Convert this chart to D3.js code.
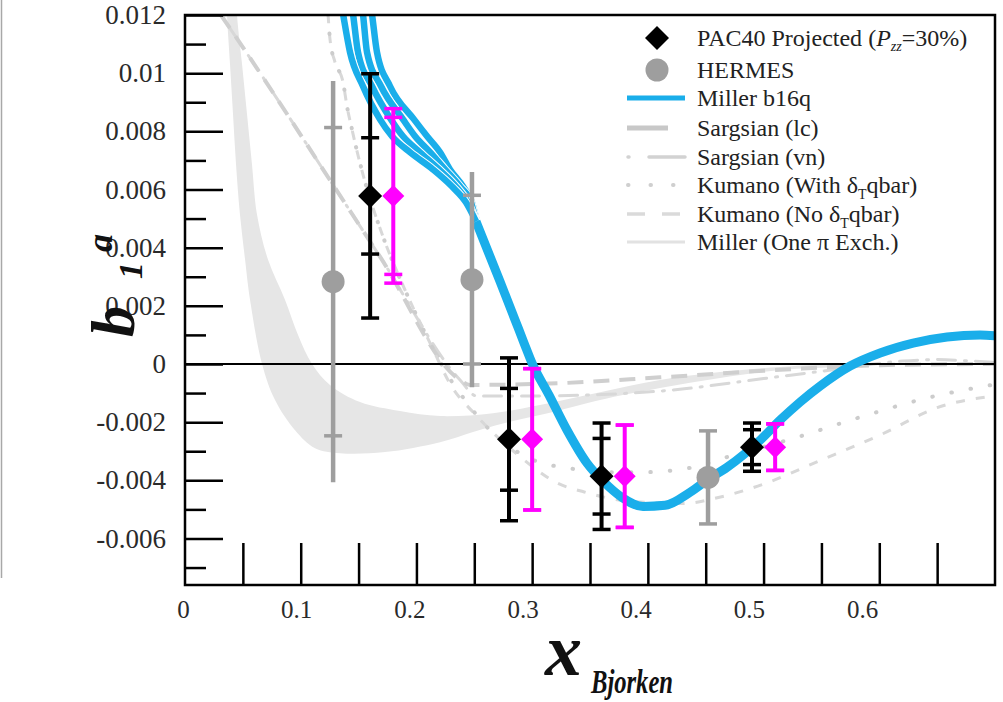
<!DOCTYPE html>
<html>
<head>
<meta charset="utf-8">
<script src="https://cdn.jsdelivr.net/npm/d3@7"></script>
<style>
body { margin: 0; background: #fff; }
text { font-family: "Liberation Serif", "Times New Roman", Times, serif; }
</style>
</head>
<body>
<svg id="chart" width="1003" height="702"></svg>
<script>
// ---- data ----
// PAC40 projected (black) and the shifted copy (magenta)
var pacX = [0.16, 0.28, 0.36, 0.49];
var pacY = [0.00578, -0.00259, -0.00386, -0.00286];
var pacStat = [0.0020, 0.00175, 0.0013, 0.0006];
var pacTot = [0.0042, 0.0028, 0.00183, 0.00083];
var projX = [0.18, 0.30, 0.38, 0.51];
var projErrA = [0.0030, 0.00243, 0.00176, 0.0008];
var projErrB = [0.0027, 0.00243, 0.00176, 0.0008];

// HERMES
var hermesX = [0.128, 0.248, 0.452];
var hermesY = [0.00283, 0.0029, -0.0039];
var hermesStat = [0.0053, 0.0029, 0.0016];
var hermesTot = [0.0069, 0.0037, 0.0016];

// Miller b16q: four strands at small x, one common tail
var strandY = [0.0129, 0.01203, 0.01072, 0.00955, 0.00841, 0.00783, 0.00728, 0.00669, 0.00610, 0.00555, 0.0049];
var strandAX = [0.1329, 0.1366, 0.1426, 0.1538, 0.1685, 0.1789, 0.1945, 0.2143, 0.2308, 0.2429, 0.2515];
var strandBX = [0.1418, 0.1452, 0.1495, 0.1616, 0.1780, 0.1884, 0.2031, 0.2195, 0.2342, 0.2446, 0.2515];
var strandCX = [0.1508, 0.1538, 0.1573, 0.1694, 0.1884, 0.1988, 0.2118, 0.2247, 0.2377, 0.2472, 0.2515];
var strandDX = [0.1585, 0.1616, 0.1659, 0.1772, 0.1979, 0.2092, 0.2204, 0.2290, 0.2403, 0.2480, 0.2522];
var millerTailX = [0.2515, 0.2723, 0.2852, 0.2930, 0.2999, 0.3146, 0.3302, 0.3474, 0.3613, 0.3777, 0.3958, 0.4149, 0.4365, 0.4520, 0.4685, 0.4970, 0.5143, 0.5315, 0.5488, 0.5748, 0.6007, 0.6292, 0.6586, 0.6871, 0.7];
var millerTailY = [0.0049, 0.00283, 0.00152, 0.00072, 0.00003, -0.00107, -0.00228, -0.00341, -0.00403, -0.00459, -0.0049, -0.00486, -0.00441, -0.00397, -0.00355, -0.00262, -0.00193, -0.00131, -0.00076, -0.00007, 0.00038, 0.00072, 0.00093, 0.0010, 0.00097];

// Miller (One pi Exch.) band edges
var bandUpX = [0.0445, 0.0449, 0.0493, 0.0536, 0.0579, 0.0622, 0.0717, 0.0864, 0.0977, 0.1098, 0.1253, 0.1513, 0.1858, 0.2204, 0.2662, 0.3068, 0.3587, 0.4105, 0.4624, 0.5143, 0.5834];
var bandUpY = [0.0127, 0.01203, 0.01031, 0.00859, 0.00686, 0.00514, 0.00359, 0.00221, 0.00100, 0, -0.00072, -0.00131, -0.00162, -0.00179, -0.00169, -0.00141, -0.00097, -0.00055, -0.00028, -0.0001, 0];
var bandLowX = [0.0360, 0.0363, 0.0389, 0.0415, 0.0441, 0.0475, 0.0519, 0.0562, 0.0666, 0.0778, 0.0951, 0.1124, 0.1340, 0.1729, 0.2204, 0.2489, 0.2723, 0.3241, 0.3587, 0.4105, 0.4624, 0.5143, 0.5834];
var bandLowY = [0.0127, 0.01203, 0.01031, 0.00859, 0.00686, 0.00514, 0.00359, 0.00221, 0, -0.00124, -0.00228, -0.0029, -0.00307, -0.00303, -0.00269, -0.00234, -0.00207, -0.00159, -0.00124, -0.00083, -0.00048, -0.00021, -0.00003];

// Sargsian (lc), Sargsian (vn)
var lcX = [0.031, 0.0493, 0.1409, 0.1685, 0.2377, 0.2463, 0.3241, 0.4105, 0.5143, 0.6007, 0.7];
var lcY = [0.0120, 0.01093, 0.00537, 0.00369, -0.00055, -0.00072, -0.00066, -0.00046, -0.0002, -0.00004, 0];
var vnX = [0.031, 0.0493, 0.1409, 0.1685, 0.2377, 0.252, 0.30, 0.36, 0.42, 0.50, 0.56, 0.62, 0.65, 0.68, 0.7];
var vnY = [0.0120, 0.01093, 0.00537, 0.00369, -0.00055, -0.0011, -0.0011, -0.00105, -0.0009, -0.0005, -0.0002, 0.0001, 0.00015, 0.0001, 0.00005];

// Kumano with / without delta_T qbar
var kwX = [0.1236, 0.1253, 0.1296, 0.1366, 0.1400, 0.1443, 0.1487, 0.1538, 0.1711, 0.1901, 0.2118, 0.2308, 0.2420, 0.2636, 0.3016, 0.3328, 0.3630, 0.3976, 0.4339, 0.4736, 0.5290, 0.5834, 0.6413, 0.7];
var kwY = [0.01203, 0.01117, 0.01038, 0.00969, 0.00886, 0.00807, 0.00731, 0.00652, 0.00438, 0.00255, 0.00072, -0.00062, -0.00124, -0.00228, -0.00331, -0.00359, -0.00372, -0.00372, -0.00359, -0.00314, -0.00252, -0.00183, -0.00117, -0.0007];
var knX = [0.1236, 0.1253, 0.1296, 0.1366, 0.1400, 0.1443, 0.1487, 0.1538, 0.1711, 0.1901, 0.2118, 0.2308, 0.25, 0.29, 0.322, 0.345, 0.38, 0.43, 0.46, 0.495, 0.55, 0.603, 0.65, 0.7];
var knY = [0.01203, 0.01117, 0.01038, 0.00969, 0.00886, 0.00807, 0.00731, 0.00652, 0.00438, 0.00255, 0.00072, -0.0008, -0.0017, -0.0032, -0.0041, -0.0044, -0.0047, -0.0048, -0.0046, -0.0042, -0.0033, -0.0024, -0.0015, -0.0011];

// axes
var yTicks = [-0.006, -0.004, -0.002, 0, 0.002, 0.004, 0.006, 0.008, 0.01, 0.012];
var yMinor = [-0.007, -0.005, -0.003, -0.001, 0.001, 0.003, 0.005, 0.007, 0.009, 0.011];
var xTicks = [0.05, 0.1, 0.15, 0.2, 0.25, 0.3, 0.35, 0.4, 0.45, 0.5, 0.55, 0.6, 0.65];
var xLabels = [0, 0.1, 0.2, 0.3, 0.4, 0.5, 0.6];

var legendNames = ["PAC40 Projected", "HERMES", "Miller b16q", "Sargsian (lc)", "Sargsian (vn)", "Kumano (With", "Kumano (No", "Miller (One \u03c0 Exch.)"];

// ---- drawing ----
var BLUE = "#1aaeea", GRAY = "#9e9e9e", MAG = "#ff00ff";
var svg = d3.select("#chart");
var x = d3.scaleLinear().domain([0, 0.7]).range([185, 995]);
var y = d3.scaleLinear().domain([-0.0076, 0.012]).range([585, 15]);
var xLab = d3.scaleLinear().domain([0, 0.6]).range([183, 862]);

function pts(xs, ys) { return xs.map(function(v, i) { return [v, ys[i]]; }); }
var line = d3.line().x(function(d) { return x(d[0]); }).y(function(d) { return y(d[1]); }).curve(d3.curveMonotoneX);

// left edge artefact of the slide
svg.append("line").attr("x1", 1.5).attr("x2", 1.5).attr("y1", 0).attr("y2", 578)
    .attr("stroke", "#a8a8a8").attr("stroke-width", 1.5);

svg.append("defs").append("clipPath").attr("id", "plot").append("rect")
    .attr("x", 185).attr("y", 15).attr("width", 810).attr("height", 570);
var plot = svg.append("g").attr("clip-path", "url(#plot)");

// band
var bandPts = pts(bandUpX, bandUpY).concat(pts(bandLowX, bandLowY).reverse());
plot.append("path")
    .attr("d", d3.line().x(function(d) { return x(d[0]); }).y(function(d) { return y(d[1]); }).curve(d3.curveCatmullRom)(bandPts) + "Z")
    .attr("fill", "#e6e6e6");

// theory curves
plot.append("path").attr("d", line(pts(vnX, vnY))).attr("fill", "none")
    .attr("stroke", "#d8d8d8").attr("stroke-width", 3).attr("stroke-dasharray", "2,9,18,9").attr("stroke-linecap", "round");
plot.append("path").attr("d", line(pts(lcX, lcY))).attr("fill", "none")
    .attr("stroke", "#cfcfcf").attr("stroke-width", 4).attr("stroke-dasharray", "16,10");
plot.append("path").attr("d", line(pts(knX, knY))).attr("fill", "none")
    .attr("stroke", "#d8d8d8").attr("stroke-width", 3).attr("stroke-dasharray", "9,11");
plot.append("path").attr("d", line(pts(kwX, kwY))).attr("fill", "none")
    .attr("stroke", "#cccccc").attr("stroke-width", 4).attr("stroke-dasharray", "0.5,19").attr("stroke-linecap", "round");

// zero line
plot.append("line").attr("x1", x(0)).attr("x2", x(0.7)).attr("y1", y(0)).attr("y2", y(0))
    .attr("stroke", "#000").attr("stroke-width", 2);

// Miller b16q
[strandDX, strandCX, strandBX, strandAX].forEach(function(sx) {
    var d = line(pts(sx, strandY));
    plot.append("path").attr("d", d).attr("fill", "none").attr("stroke", "#fff").attr("stroke-width", 8.5);
    plot.append("path").attr("d", d).attr("fill", "none").attr("stroke", BLUE).attr("stroke-width", 6.5);
});
plot.append("path").attr("d", line(pts(millerTailX, millerTailY))).attr("fill", "none")
    .attr("stroke", BLUE).attr("stroke-width", 9);

// error bars
var bars = svg.append("g");
function vbar(px, lo, hi, color, w) {
    bars.append("line").attr("x1", x(px)).attr("x2", x(px)).attr("y1", y(lo)).attr("y2", y(hi))
        .attr("stroke", color).attr("stroke-width", w);
}
function cap(px, v, color, half, th) {
    bars.append("line").attr("x1", x(px) - half).attr("x2", x(px) + half).attr("y1", y(v)).attr("y2", y(v))
        .attr("stroke", color).attr("stroke-width", th);
}
function diamond(px, v, r, color) {
    bars.append("path").attr("d", "M0," + (-r) + "L" + r + ",0L0," + r + "L" + (-r) + ",0Z")
        .attr("transform", "translate(" + x(px) + "," + y(v) + ")").attr("fill", color);
}

hermesX.forEach(function(hx, i) {
    vbar(hx, hermesY[i] - hermesTot[i], hermesY[i] + hermesTot[i], GRAY, 4.5);
    cap(hx, hermesY[i] + hermesStat[i], GRAY, 9, 3.5);
    cap(hx, hermesY[i] - hermesStat[i], GRAY, 9, 3.5);
    bars.append("circle").attr("cx", x(hx)).attr("cy", y(hermesY[i])).attr("r", 11.5).attr("fill", GRAY);
});
pacX.forEach(function(px, i) {
    vbar(px, pacY[i] - pacTot[i], pacY[i] + pacTot[i], "#000", 4);
    [pacStat[i], -pacStat[i], pacTot[i], -pacTot[i]].forEach(function(e) { cap(px, pacY[i] + e, "#000", 9, 3.5); });
    diamond(px, pacY[i], 12, "#000");
});
projX.forEach(function(px, i) {
    vbar(px, pacY[i] - projErrA[i], pacY[i] + projErrA[i], MAG, 4);
    [projErrA[i], -projErrA[i], projErrB[i], -projErrB[i]].forEach(function(e) { cap(px, pacY[i] + e, MAG, 9, 3.5); });
    diamond(px, pacY[i], 11, MAG);
});

// axes
var fmt = function(d) { return d === 0 ? "0" : String(+d.toFixed(3)); };
svg.append("g").attr("class", "yax").attr("transform", "translate(185,0)")
    .call(d3.axisLeft(y).tickValues(yTicks).tickSizeInner(-38).tickSizeOuter(0).tickPadding(19).tickFormat(fmt));
svg.append("g").attr("transform", "translate(185,0)")
    .call(d3.axisLeft(y).tickValues(yMinor).tickSizeInner(-21).tickSizeOuter(0).tickFormat(""));
svg.append("g").attr("transform", "translate(0,585)")
    .call(d3.axisBottom(x).tickValues(xTicks).tickSizeInner(-42).tickSizeOuter(0).tickFormat(""));
var gx = svg.append("g").attr("class", "xax").attr("transform", "translate(0,600)")
    .call(d3.axisBottom(xLab).tickValues(xLabels).tickSize(0).tickPadding(0).tickFormat(function(d) { return d === 0 ? "0" : d.toFixed(1); }));
svg.selectAll(".domain").remove();
gx.selectAll("line").remove();
svg.selectAll(".tick line").attr("stroke", "#000").attr("stroke-width", 2.5);
svg.selectAll(".tick text").attr("fill", "#2a2a2a").attr("font-family", "'Liberation Serif', 'Times New Roman', serif");
svg.selectAll(".yax .tick text").attr("font-size", 27);
svg.selectAll(".xax .tick text").attr("font-size", 25);

// frame
svg.append("rect").attr("x", 185).attr("y", 15).attr("width", 810).attr("height", 570)
    .attr("fill", "none").attr("stroke", "#000").attr("stroke-width", 2.5);

// legend
var lg = svg.append("g");
var rows = [38, 70, 98, 128, 157, 185, 214, 242];
lg.append("path").attr("d", "M0,-12L12,0L0,12L-12,0Z").attr("transform", "translate(657," + rows[0] + ")").attr("fill", "#000");
lg.append("circle").attr("cx", 657).attr("cy", rows[1]).attr("r", 11.5).attr("fill", GRAY);
lg.append("line").attr("x1", 627).attr("x2", 685).attr("y1", rows[2]).attr("y2", rows[2]).attr("stroke", BLUE).attr("stroke-width", 5);
lg.append("line").attr("x1", 627).attr("x2", 668).attr("y1", rows[3]).attr("y2", rows[3]).attr("stroke", "#c8c8c8").attr("stroke-width", 5);
lg.append("line").attr("x1", 628).attr("x2", 685).attr("y1", rows[4]).attr("y2", rows[4]).attr("stroke", "#d2d2d2").attr("stroke-width", 3.5)
    .attr("stroke-dasharray", "1,20,40").attr("stroke-linecap", "round");
lg.append("line").attr("x1", 628).attr("x2", 685).attr("y1", rows[5]).attr("y2", rows[5]).attr("stroke", "#cfcfcf").attr("stroke-width", 4)
    .attr("stroke-dasharray", "0.5,22").attr("stroke-linecap", "round");
lg.append("line").attr("x1", 627).attr("x2", 685).attr("y1", rows[6]).attr("y2", rows[6]).attr("stroke", "#dadada").attr("stroke-width", 3.5)
    .attr("stroke-dasharray", "18,17");
lg.append("line").attr("x1", 627).attr("x2", 685).attr("y1", rows[7]).attr("y2", rows[7]).attr("stroke", "#e2e2e2").attr("stroke-width", 3);

var lt = lg.selectAll("text.leg").data(legendNames).enter().append("text").attr("class", "leg")
    .attr("x", 697).attr("y", function(d, i) { return rows[i] + 8; })
    .attr("fill", "#222").attr("font-size", 24).text(function(d) { return d; });
var t0 = d3.select(lt.nodes()[0]);
t0.append("tspan").text(" (");
t0.append("tspan").attr("font-style", "italic").text("P");
t0.append("tspan").attr("font-style", "italic").attr("font-size", 14).attr("dy", 5).text("zz");
t0.append("tspan").attr("dy", -5).text("=30%)");
[5, 6].forEach(function(k) {
    var t = d3.select(lt.nodes()[k]);
    t.append("tspan").text(" \u03b4");
    t.append("tspan").attr("font-size", 14).attr("dy", 6).text("T");
    t.append("tspan").attr("dy", -6).text("qbar)");
});

// axis titles
svg.append("text").attr("x", 545).attr("y", 675).attr("fill", "#111")
    .attr("font-weight", "bold").attr("font-style", "italic").attr("font-size", 74).text("x");
svg.append("text").attr("x", 591).attr("y", 693).attr("fill", "#111")
    .attr("font-weight", "bold").attr("font-style", "italic").attr("font-size", 34)
    .attr("textLength", 82).attr("lengthAdjust", "spacingAndGlyphs").text("Bjorken");

function ylab(s, px, py, size) {
    svg.append("text").attr("transform", "translate(" + px + "," + py + ") rotate(-90)")
        .attr("fill", "#111").attr("font-weight", "bold").attr("font-style", "italic")
        .attr("font-size", size).text(s);
}
ylab("b", 134, 337, 62);
ylab("1", 142, 279, 34);
ylab("a", 112, 252, 36);
</script>
</body>
</html>
